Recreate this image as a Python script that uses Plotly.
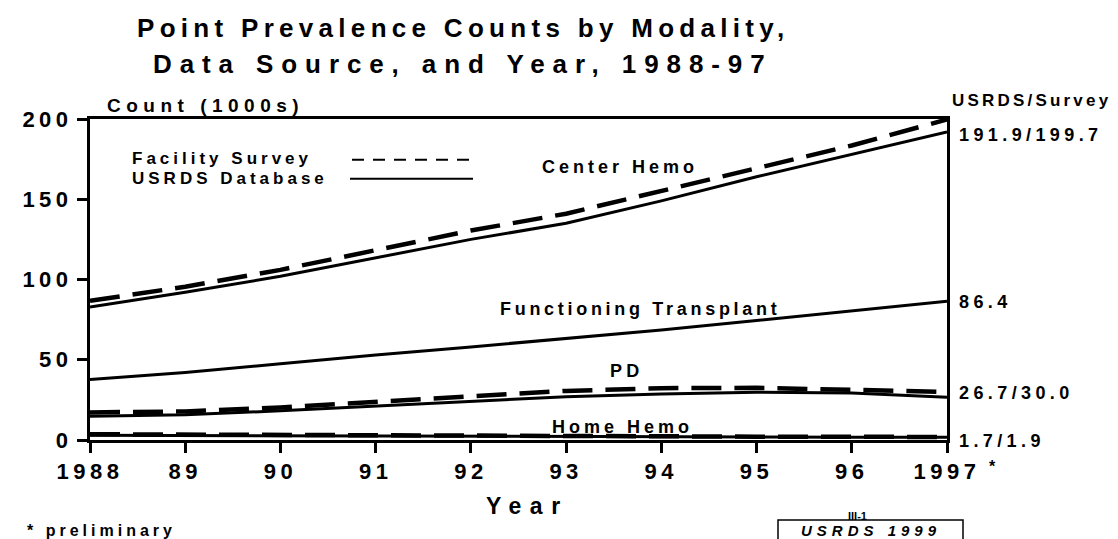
import plotly.graph_objects as go

years = [1988, 1989, 1990, 1991, 1992, 1993, 1994, 1995, 1996, 1997]
tick_labels = ["1988", "89", "90", "91", "92", "93", "94", "95", "96", "1997"]

center_hemo_usrds = [82.9, 92.0, 102.0, 113.5, 125.0, 135.0, 149.0, 164.0, 178.0, 191.9]
center_hemo_survey = [86.7, 95.5, 106.0, 118.0, 130.5, 141.0, 155.0, 169.0, 183.5, 199.7]
transplant_usrds = [37.7, 42.0, 47.5, 53.0, 58.0, 63.3, 68.5, 74.4, 80.4, 86.4]
pd_usrds = [14.8, 15.7, 18.2, 21.0, 24.0, 27.0, 28.6, 29.8, 29.3, 26.7]
pd_survey = [17.2, 17.8, 20.3, 24.0, 27.2, 30.6, 32.3, 32.5, 31.3, 30.0]
home_usrds = [3.0, 2.8, 2.6, 2.4, 2.2, 2.0, 1.9, 1.8, 1.7, 1.7]
home_survey = [3.6, 3.3, 3.0, 2.9, 2.6, 2.4, 2.3, 2.1, 2.0, 1.9]

FONT = "Liberation Sans, Arial, sans-serif"
W, H = 1118, 539
L, R, T, B = 90, 947, 118.5, 440


def px(x):
    return (x - L) / (R - L)


def py(y):
    return (B - y) / (B - T)


def sp(text, ls):
    return f'<span style="letter-spacing:{ls}px">{text}</span>'


fig = go.Figure()

solid = dict(color="black", width=3)
dashed = dict(color="black", width=4.5, dash="30px,13px")

for ys, ln in [
    (center_hemo_survey, dashed),
    (center_hemo_usrds, solid),
    (transplant_usrds, solid),
    (pd_survey, dashed),
    (pd_usrds, solid),
    (home_survey, dashed),
    (home_usrds, solid),
]:
    fig.add_trace(go.Scatter(x=years, y=ys, mode="lines", line=ln,
                             cliponaxis=False, showlegend=False, hoverinfo="skip"))

ann = []


def add_text(text, x, y, size, ls, xanchor="left", yanchor="middle", italic=False):
    ann.append(dict(text=sp(text, ls), x=px(x), y=py(y), xref="paper", yref="paper",
                    xanchor=xanchor, yanchor=yanchor, showarrow=False,
                    font=dict(family=FONT, size=size, color="black", weight="bold",
                              style="italic" if italic else "normal")))


add_text("Point Prevalence Counts by Modality,", 463, 27, 26, 5.3, xanchor="center")
add_text("Data Source, and Year, 1988-97", 463, 63, 26, 7.9, xanchor="center")
add_text("Count (1000s)", 105, 105, 19, 5.5)
add_text("Facility Survey", 130, 158, 17, 4)
add_text("USRDS Database", 130, 178.5, 17, 4)
add_text("Center Hemo", 540, 167, 18, 4.0)
add_text("Functioning Transplant", 498, 308.5, 18, 3.7)
add_text("PD", 608, 371, 18, 4.2)
add_text("Home Hemo", 550, 426.5, 18, 4.0)
add_text("USRDS/Survey", 950, 100, 17, 3.2)
add_text("191.9/199.7", 957, 135, 18, 4.4)
add_text("86.4", 957, 302, 18, 4.4)
add_text("26.7/30.0", 957, 393, 18, 4.4)
add_text("1.7/1.9", 957, 441, 18, 4.4)
add_text("*", 987, 467, 16, 0)
add_text("Year", 527, 506, 23, 8.5, xanchor="center")
add_text("* preliminary", 25, 531, 16, 4)
add_text("III-1", 857, 516, 11, 0, xanchor="center")
add_text("USRDS 1999", 871, 531, 15, 5, xanchor="center", italic=True)

shapes = [
    dict(type="line", xref="paper", yref="paper", x0=px(352), x1=px(473), y0=py(159.3), y1=py(159.3),
         line=dict(color="black", width=2, dash="12px,9px")),
    dict(type="line", xref="paper", yref="paper", x0=px(350), x1=px(473), y0=py(178.3), y1=py(178.3),
         line=dict(color="black", width=2)),
    dict(type="rect", xref="paper", yref="paper", x0=px(778), x1=px(963), y0=py(520), y1=py(548),
         line=dict(color="black", width=1.5)),
]

fig.update_layout(
    width=W, height=H,
    margin=dict(l=L, r=W - R, t=T, b=H - B, pad=0),
    paper_bgcolor="white", plot_bgcolor="white",
    xaxis=dict(range=[1988, 1997], tickmode="array", tickvals=years,
               ticktext=[sp(t, 4.5) for t in tick_labels],
               showline=True, linecolor="black", linewidth=3, mirror=True,
               ticks="outside", ticklen=10, tickwidth=2.5, tickcolor="black",
               showgrid=False, zeroline=False,
               tickfont=dict(family=FONT, size=22, color="black", weight="bold")),
    yaxis=dict(range=[0, 200], tickmode="array", tickvals=[0, 50, 100, 150, 200],
               ticktext=[sp(str(v), 4.5) for v in [0, 50, 100, 150, 200]],
               showline=True, linecolor="black", linewidth=3, mirror=True,
               ticks="outside", ticklen=10, tickwidth=2.5, tickcolor="black",
               showgrid=False, zeroline=False,
               tickfont=dict(family=FONT, size=22, color="black", weight="bold")),
    annotations=ann,
    shapes=shapes,
    showlegend=False,
)

fig.write_html("out.html", config={"displayModeBar": False},
               post_script="document.body.style.margin='0px';")
